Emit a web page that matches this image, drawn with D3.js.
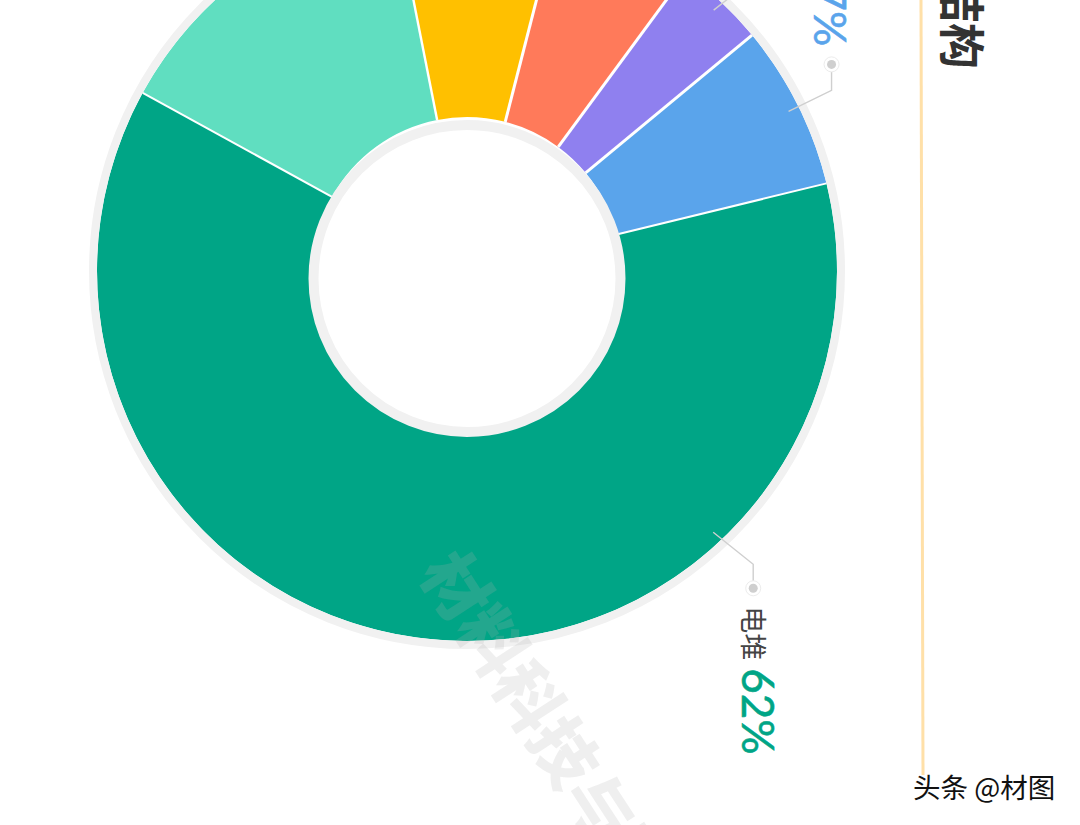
<!DOCTYPE html>
<html>
<head>
<meta charset="utf-8">
<script src="https://cdn.jsdelivr.net/npm/d3@7"></script>
<style>
	html, body { margin: 0; padding: 0; background: #fff; overflow: hidden; }
	svg { display: block; }
	text { font-family: 'Noto Sans CJK SC', sans-serif; }
</style>
</head>
<body>
<script>
// read clockwise from the green slice, the picture is turned 90deg
const sliceShares = [61.8, 13.9, 7.1, 6.1, 3.9, 7.2]
const sliceColours = ['#00a586', '#60dec0', '#ffc000', '#ff7a5a', '#8f80ef', '#5aa4eb']
const sliceNames = ['电堆', '', '', '', '', '']
const leaderAngles = [136.7, null, null, null, 43.4, 63.6]
const titleText = '结构'
const creditText = '头条 @材图'
const watermarkText = '材料科技与研究'

const width = 1080
const height = 825
const cx = 467
const cy = 271
const outerR = 370
const holeR = 154
const START_DEG = 76.3
const rad = d => d*Math.PI/180

const svg = d3.select('body').append('svg')
	.attr('width', width)
	.attr('height', height)

const pie = d3.pie()
	.sort(null)
	.startAngle(rad(START_DEG))
	.endAngle(rad(START_DEG + 360))

const arc = d3.arc()
	.innerRadius(holeR)
	.outerRadius(outerR)

const arcs = pie(sliceShares)

const donut = svg.append('g')
	.attr('transform', `translate(${cx}, ${cy})`)

donut.selectAll('path')
	.data(arcs)
	.enter()
	.append('path')
	.attr('d', arc)
	.attr('fill', (d, i) => sliceColours[i])

// white gaps are thinner either side of the big slice
const gapWidths = [2, 2, 2.4, 3, 3, 3]

donut.selectAll('.gap')
	.data(arcs)
	.enter()
	.append('path')
	.attr('class', 'gap')
	.attr('d', d => d3.line()([d3.pointRadial(d.startAngle, holeR), d3.pointRadial(d.startAngle, outerR)]))
	.attr('stroke', '#fff')
	.attr('stroke-width', (d, i) => gapWidths[i])

// grey rim outside, and the hole which sits a little lower than the slices
donut.append('circle')
	.attr('r', outerR + 4)
	.attr('fill', 'none')
	.attr('stroke', '#f1f1f1')
	.attr('stroke-width', 8)

svg.append('circle')
	.attr('cx', cx)
	.attr('cy', 278.5)
	.attr('r', 153.5)
	.attr('fill', '#fff')
	.attr('stroke', '#f1f1f1')
	.attr('stroke-width', 10)

// leaders: anchor on the slice, then elbow, then straight to the dot
const leaderBends = {
	0: [[40, 32], [0, 24]],
	4: [[29, -23], [0, -26]],
	5: [[43, -21], [0, -26]]
}

const labelSpots = []

Object.keys(leaderBends).forEach(k => {
	const p = d3.pointRadial(rad(leaderAngles[k]), 359)
	const start = [cx + p[0], cy + p[1]]
	const elbow = [start[0] + leaderBends[k][0][0], start[1] + leaderBends[k][0][1]]
	const end = [elbow[0] + leaderBends[k][1][0], elbow[1] + leaderBends[k][1][1]]

	svg.append('path')
		.attr('d', d3.line()([start, elbow, end]))
		.attr('fill', 'none')
		.attr('stroke', '#cfcfcf')
		.attr('stroke-width', 1.4)

	svg.append('circle')
		.attr('cx', end[0])
		.attr('cy', end[1])
		.attr('r', 7.5)
		.attr('fill', '#fff')
		.attr('stroke', '#ececec')
		.attr('stroke-width', 1)

	svg.append('circle')
		.attr('cx', end[0])
		.attr('cy', end[1])
		.attr('r', 4.5)
		.attr('fill', '#cfcfcf')

	labelSpots[k] = end
})

const turned = (x, y) => `translate(${x}, ${y}) rotate(90)`

// big slice: name then percent, running down the page
const greenDot = labelSpots[0]

svg.append('text')
	.attr('transform', turned(greenDot[0] - 10, greenDot[1] + 18))
	.attr('font-size', 27)
	.attr('fill', '#444')
	.text(sliceNames[0])

svg.append('text')
	.attr('transform', turned(greenDot[0] - 11, greenDot[1] + 80))
	.style('font-family', 'Lato, sans-serif')
	.attr('font-size', 44)
	.attr('fill', sliceColours[0])
	.attr('stroke', sliceColours[0])
	.attr('stroke-width', 0.6)
	.text(`${Math.round(sliceShares[0])}%`)

// blue slice: only the end of its label is left in the frame
const blueDot = labelSpots[5]

svg.append('text')
	.attr('transform', turned(blueDot[0] - 18, blueDot[1] - 18))
	.style('font-family', 'Lato, sans-serif')
	.attr('font-size', 44)
	.attr('text-anchor', 'end')
	.attr('fill', sliceColours[5])
	.attr('stroke', sliceColours[5])
	.attr('stroke-width', 0.6)
	.text(`${Math.round(sliceShares[5])}%`)

svg.append('line')
	.attr('x1', 921)
	.attr('y1', 0)
	.attr('x2', 923)
	.attr('y2', 775)
	.attr('stroke', '#ffe0a8')
	.attr('stroke-width', 3)

svg.append('text')
	.attr('transform', turned(945, 69))
	.attr('font-size', 46)
	.attr('font-weight', 700)
	.attr('text-anchor', 'end')
	.attr('fill', '#333')
	.text(titleText)

svg.append('text')
	.attr('transform', 'translate(418, 572) rotate(57)')
	.attr('font-size', 66)
	.attr('font-weight', 900)
	.attr('fill', 'rgb(175, 175, 175)')
	.attr('fill-opacity', 0.2)
	.text(watermarkText)

svg.append('text')
	.attr('x', 913)
	.attr('y', 798)
	.attr('font-size', 27.5)
	.attr('fill', '#111')
	.attr('stroke', '#fff')
	.attr('stroke-width', 3)
	.attr('paint-order', 'stroke')
	.text(creditText)
</script>
</body>
</html>
